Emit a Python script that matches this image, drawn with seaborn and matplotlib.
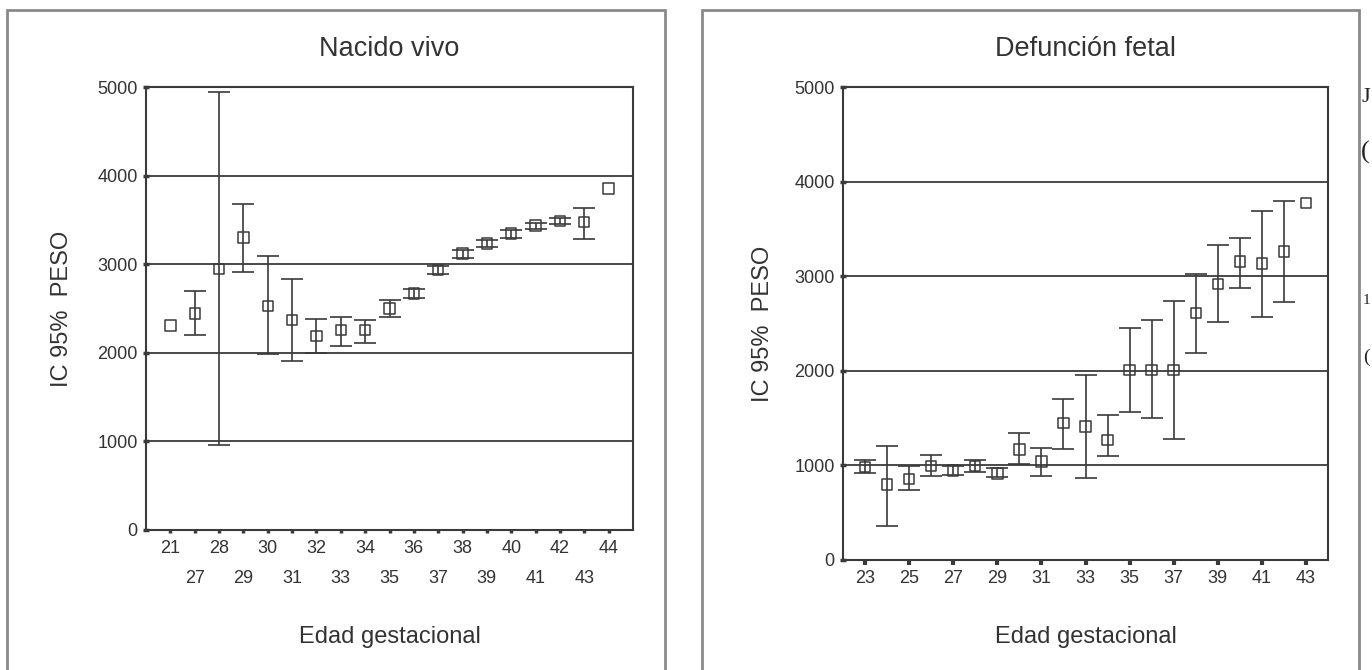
import numpy as np
import pandas as pd
import seaborn as sns
import matplotlib.pyplot as plt
from matplotlib.patches import Rectangle

# Nacido vivo: peso medio e IC 95% por edad gestacional
nv_edad = ['21', '27', '28', '29', '30', '31', '32', '33', '34', '35',
           '36', '37', '38', '39', '40', '41', '42', '43', '44']
nv_peso = [2310, 2445, 2945, 3300, 2525, 2370, 2190, 2255, 2255, 2500,
           2670, 2935, 3120, 3235, 3345, 3435, 3485, 3475, 3855]
nv_inf = [np.nan, 2200, 965, 2910, 1990, 1910, 2000, 2075, 2110, 2400,
          2615, 2895, 3075, 3190, 3300, 3395, 3450, 3290, np.nan]
nv_sup = [np.nan, 2695, 4940, 3685, 3090, 2835, 2380, 2400, 2370, 2600,
          2725, 2980, 3165, 3270, 3385, 3465, 3525, 3635, np.nan]

# Defuncion fetal
df_edad = ['23', '24', '25', '26', '27', '28', '29', '30', '31', '32', '33',
           '34', '35', '36', '37', '38', '39', '40', '41', '42', '43']
df_peso = [985, 800, 855, 995, 945, 995, 915, 1170, 1040, 1445, 1410,
           1270, 2010, 2010, 2010, 2610, 2920, 3155, 3135, 3260, 3775]
df_inf = [915, 360, 735, 890, 895, 935, 880, 1015, 890, 1175, 870,
          1100, 1560, 1500, 1275, 2190, 2515, 2870, 2565, 2725, np.nan]
df_sup = [1055, 1205, 995, 1105, 995, 1055, 970, 1345, 1185, 1700, 1955,
          1535, 2450, 2535, 2740, 3025, 3330, 3400, 3690, 3790, np.nan]

y_ticks = [0, 1000, 2000, 3000, 4000, 5000]

sns.set_style('white')
plt.rcParams['font.family'] = ['Liberation Sans', 'DejaVu Sans']
linea = '#3a3a3a'
texto = '#333333'

W, H = 1372, 670
fig = plt.figure(figsize=(W / 100, H / 100), dpi=100)


def panel(rect, edad, peso, inf, sup, titulo, escalonado, lab_y, lab_x):
    ax = fig.add_axes(rect)
    datos = pd.DataFrame({'edad': edad, 'peso': peso, 'inf': inf, 'sup': sup})
    datos['pos'] = np.arange(len(datos))
    ic = datos.dropna()
    ax.errorbar(ic['pos'], ic['peso'],
                yerr=[ic['peso'] - ic['inf'], ic['sup'] - ic['peso']],
                fmt='none', ecolor=linea, elinewidth=1.2, capsize=7.8,
                capthick=1.2, zorder=2)
    sns.scatterplot(data=datos, x='pos', y='peso', marker='s', s=56,
                    facecolor='none', edgecolor=linea, linewidth=1.1,
                    ax=ax, zorder=3)

    ax.set_xlim(-1, len(datos))
    ax.set_ylim(0, 5000)
    ax.set_yticks(y_ticks)
    ax.yaxis.grid(True, color=linea, lw=1.3)
    ax.xaxis.grid(False)
    for s in ax.spines.values():
        s.set_color(linea)
        s.set_linewidth(1.5)

    pos = datos['pos'].to_numpy()
    ax.set_xticks(pos[::2], edad[::2])
    if escalonado:
        ax.set_xticks(pos[1::2], edad[1::2], minor=True)
        ax.tick_params(axis='x', which='minor', bottom=True, length=2.5,
                       width=2.5, color=linea, pad=26, labelsize=13,
                       labelcolor=texto)
        ax.tick_params(axis='x', which='major', length=2.5, width=2.5, pad=5)
    else:
        ax.tick_params(axis='x', which='major', length=3.5, width=3, pad=4)
    ax.tick_params(axis='x', which='major', bottom=True, color=linea,
                   labelsize=13, labelcolor=texto)
    ax.tick_params(axis='y', left=True, length=4, width=2.5,
                   direction='inout', color=linea, pad=4, labelsize=13,
                   labelcolor=texto)

    ax.set_title(titulo, fontsize=19.5, color=texto, pad=22)
    ax.set_ylabel('IC 95%  PESO', fontsize=17, color=texto)
    ax.yaxis.set_label_coords(lab_y, 0.5)
    ax.yaxis.label.set_verticalalignment('center')
    ax.set_xlabel('Edad gestacional', fontsize=17, color=texto)
    ax.xaxis.set_label_coords(0.5, lab_x)
    ax.xaxis.label.set_verticalalignment('center')
    return ax


panel([146 / W, 1 - 530 / H, 487 / W, 443 / H], nv_edad, nv_peso,
      nv_inf, nv_sup, 'Nacido vivo', True, -0.1725, -0.2415)
panel([843 / W, 1 - 560 / H, 485 / W, 473 / H], df_edad, df_peso,
      df_inf, df_sup, 'Defunción fetal', False, -0.165, -0.163)

# marcos de cada grafico
for x0, x1 in [(7, 665), (702, 1359)]:
    fig.add_artist(Rectangle((x0 / W, -0.05), (x1 - x0) / W, 1.05 - 10 / H,
                             transform=fig.transFigure, fill=False,
                             ec='#8a8a8a', lw=2))

# restos de texto en el borde derecho
for letra, yy, tam in [('J', 97, 16), ('(', 152, 19), ('1', 300, 11), ('(', 357, 14)]:
    fig.text(1370 / W, 1 - yy / H, letra, fontsize=tam, color='#222222',
             va='center', ha='right', family='Liberation Serif')

fig.savefig('out.png', dpi=100)
